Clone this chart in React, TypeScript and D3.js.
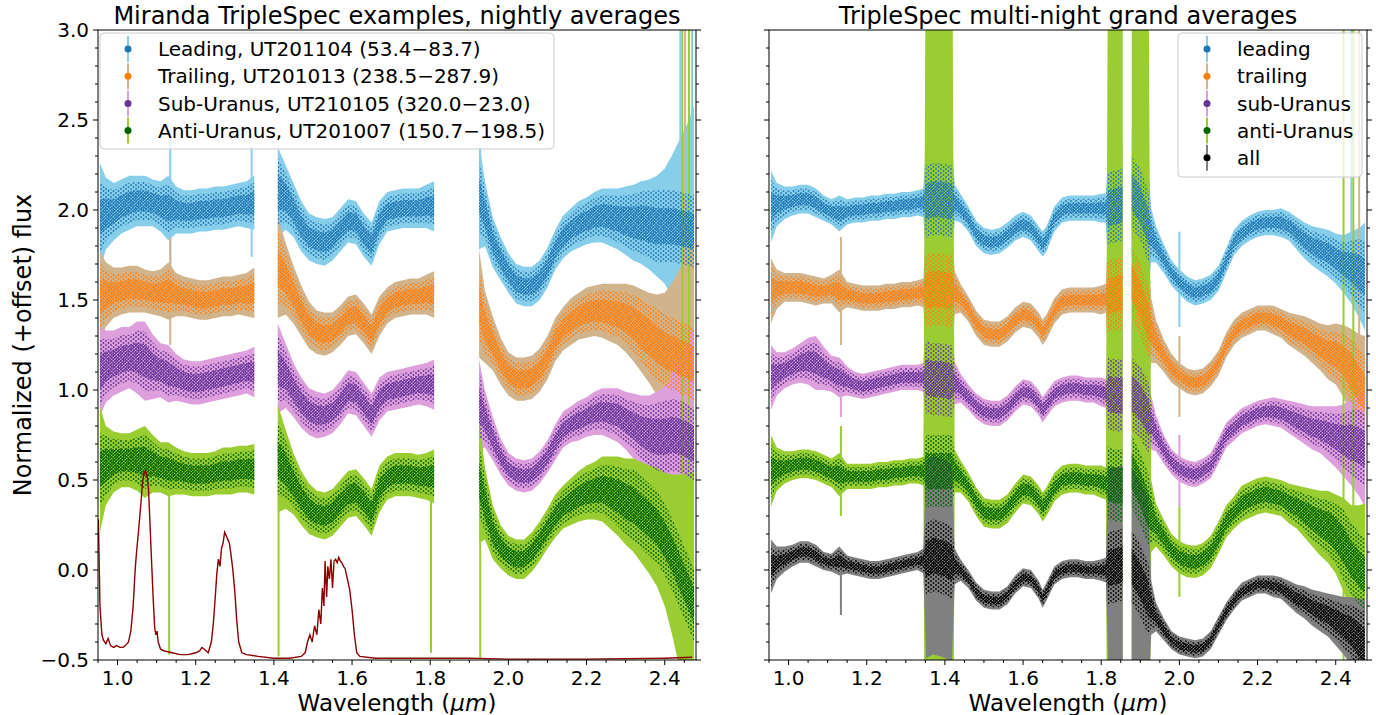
import * as d3 from "d3";

const FONT = "DejaVu Sans, Verdana, sans-serif";
const TOP = 30;
const BOTTOM = 660;

// series colours: marker colour and error-bar colour
const COLORS: Record<string, { dot: string; bar: string }> = {
  lead: { dot: "#1f77b4", bar: "#87ceeb" },
  trail: { dot: "#ff7f0e", bar: "#d2b48c" },
  sub: { dot: "#663399", bar: "#dda0dd" },
  anti: { dot: "#006400", bar: "#9acd32" },
  all: { dot: "#000000", bar: "#808080" },
};

const X_TICKS = [1.0, 1.2, 1.4, 1.6, 1.8, 2.0, 2.2, 2.4];
const Y_TICKS = [-0.5, 0.0, 0.5, 1.0, 1.5, 2.0, 2.5, 3.0];

// ---------- left panel: nightly averages ----------
const WL_L = [
  0.955, 0.97, 0.99, 1.01, 1.03, 1.05, 1.07, 1.09, 1.11, 1.13, 1.15, 1.17, 1.19, 1.21, 1.23, 1.25, 1.27, 1.29, 1.31, 1.33, 1.35,
  1.41, 1.43, 1.45, 1.47, 1.49, 1.51, 1.53, 1.55, 1.57, 1.59, 1.61, 1.63, 1.65, 1.67, 1.69, 1.71, 1.73, 1.75, 1.77, 1.79, 1.81,
  1.925, 1.94, 1.96, 1.98, 2.0, 2.02, 2.04, 2.06, 2.08, 2.1, 2.12, 2.14, 2.16, 2.18, 2.2, 2.22, 2.24, 2.26, 2.28, 2.3, 2.32, 2.34, 2.36, 2.38, 2.4, 2.42, 2.44, 2.46, 2.475,
];
const GAPS_L = [[1.35, 1.41], [1.81, 1.925]];

const LEAD_L = [
  1.96, 1.98, 1.99, 2.02, 2.04, 2.05, 2.05, 2.04, 2.02, 2.01, 2.0, 1.99, 1.99, 2.0, 2.0, 2.01, 2.01, 2.02, 2.03, 2.03, 2.04,
  2.1, 2.07, 2.0, 1.91, 1.85, 1.83, 1.82, 1.84, 1.89, 1.94, 1.93, 1.86, 1.81, 1.93, 1.99, 2.0, 2.01, 2.01, 2.01, 2.02, 2.02,
  2.08, 1.98, 1.82, 1.73, 1.65, 1.59, 1.575, 1.575, 1.61, 1.68, 1.78, 1.85, 1.89, 1.92, 1.94, 1.96, 1.97, 1.96, 1.95, 1.94, 1.93, 1.93, 1.92, 1.91, 1.91, 1.91, 1.9, 1.89, 1.88,
];
const LEAD_L_ERR = [
  0.3, 0.2, 0.16, 0.15, 0.15, 0.14, 0.14, 0.13, 0.14, 0.18, 0.13, 0.12, 0.12, 0.12, 0.12, 0.12, 0.12, 0.12, 0.12, 0.13, 0.15,
  0.25, 0.18, 0.15, 0.14, 0.13, 0.13, 0.13, 0.12, 0.12, 0.12, 0.12, 0.12, 0.12, 0.12, 0.11, 0.11, 0.11, 0.11, 0.11, 0.12, 0.14,
  0.3, 0.18, 0.14, 0.12, 0.11, 0.11, 0.11, 0.11, 0.11, 0.11, 0.11, 0.12, 0.12, 0.13, 0.13, 0.14, 0.15, 0.16, 0.17, 0.19, 0.21, 0.23, 0.25, 0.28, 0.32, 0.4, 0.5, 0.6, 0.7,
];
const TRAIL_L = [
  1.52, 1.53, 1.54, 1.55, 1.56, 1.56, 1.55, 1.54, 1.54, 1.55, 1.53, 1.52, 1.51, 1.5, 1.5, 1.51, 1.52, 1.52, 1.53, 1.53, 1.54,
  1.68, 1.62, 1.53, 1.44, 1.36, 1.32, 1.31, 1.32, 1.36, 1.41, 1.42, 1.37, 1.31, 1.41, 1.47, 1.5, 1.51, 1.52, 1.52, 1.53, 1.53,
  1.48, 1.35, 1.26, 1.16, 1.09, 1.06, 1.06, 1.07, 1.11, 1.18, 1.28, 1.34, 1.38, 1.41, 1.43, 1.44, 1.44, 1.43, 1.42, 1.4, 1.37, 1.33, 1.29, 1.25, 1.22, 1.2, 1.18, 1.16, 1.14,
];
const TRAIL_L_ERR = [
  0.25, 0.18, 0.14, 0.13, 0.13, 0.13, 0.12, 0.12, 0.13, 0.16, 0.12, 0.11, 0.11, 0.11, 0.11, 0.11, 0.11, 0.11, 0.11, 0.12, 0.14,
  0.28, 0.2, 0.16, 0.14, 0.13, 0.12, 0.12, 0.11, 0.11, 0.11, 0.11, 0.11, 0.11, 0.11, 0.1, 0.1, 0.1, 0.1, 0.1, 0.11, 0.13,
  0.3, 0.2, 0.15, 0.13, 0.12, 0.12, 0.12, 0.12, 0.12, 0.12, 0.12, 0.12, 0.13, 0.13, 0.14, 0.14, 0.15, 0.16, 0.17, 0.19, 0.21, 0.23, 0.25, 0.28, 0.32, 0.4, 0.5, 0.6, 0.7,
];
const SUB_L = [
  1.1, 1.13, 1.15, 1.17, 1.18, 1.18, 1.16, 1.13, 1.11, 1.09, 1.07, 1.05, 1.04, 1.04, 1.05, 1.06, 1.07, 1.08, 1.09, 1.1, 1.1,
  1.12, 1.08, 1.0, 0.93, 0.88, 0.86, 0.86, 0.88, 0.93, 0.99, 0.98, 0.92, 0.86, 0.95, 0.99, 1.0, 1.01, 1.02, 1.03, 1.03, 1.03,
  0.92, 0.84, 0.73, 0.63, 0.56, 0.53, 0.52, 0.53, 0.57, 0.63, 0.71, 0.78, 0.81, 0.83, 0.85, 0.87, 0.88, 0.87, 0.86, 0.83, 0.8, 0.77, 0.75, 0.74, 0.74, 0.75, 0.74, 0.72, 0.7,
];
const SUB_L_ERR = [
  0.25, 0.2, 0.18, 0.18, 0.17, 0.2, 0.22, 0.18, 0.15, 0.16, 0.13, 0.12, 0.12, 0.12, 0.12, 0.12, 0.12, 0.12, 0.12, 0.12, 0.14,
  0.25, 0.18, 0.15, 0.14, 0.13, 0.13, 0.12, 0.12, 0.12, 0.12, 0.12, 0.12, 0.12, 0.12, 0.11, 0.11, 0.11, 0.11, 0.11, 0.12, 0.14,
  0.25, 0.16, 0.12, 0.1, 0.09, 0.09, 0.09, 0.09, 0.09, 0.09, 0.1, 0.1, 0.1, 0.11, 0.11, 0.12, 0.13, 0.14, 0.15, 0.16, 0.18, 0.2, 0.22, 0.25, 0.28, 0.35, 0.45, 0.55, 0.65,
];
const ANTI_L = [
  0.56, 0.58, 0.6, 0.61, 0.61, 0.61, 0.6, 0.59, 0.57, 0.56, 0.55, 0.54, 0.53, 0.53, 0.53, 0.54, 0.55, 0.55, 0.56, 0.56, 0.56,
  0.62, 0.56, 0.48, 0.4, 0.34, 0.31, 0.3, 0.32, 0.37, 0.42, 0.43, 0.38, 0.32, 0.45, 0.51, 0.53, 0.53, 0.53, 0.52, 0.52, 0.52,
  0.5, 0.37, 0.21, 0.13, 0.08, 0.06, 0.06, 0.1, 0.16, 0.23, 0.3, 0.35, 0.38, 0.41, 0.43, 0.44, 0.45, 0.43, 0.41, 0.38, 0.36, 0.32, 0.28, 0.24, 0.17, 0.08, -0.02, -0.12, -0.2,
];
const ANTI_L_ERR = [
  0.35, 0.22, 0.17, 0.15, 0.15, 0.17, 0.2, 0.16, 0.14, 0.15, 0.13, 0.12, 0.12, 0.12, 0.12, 0.12, 0.13, 0.13, 0.13, 0.13, 0.14,
  0.3, 0.22, 0.17, 0.15, 0.14, 0.13, 0.13, 0.13, 0.13, 0.13, 0.13, 0.13, 0.13, 0.13, 0.12, 0.12, 0.12, 0.12, 0.12, 0.13, 0.15,
  0.35, 0.2, 0.15, 0.12, 0.11, 0.11, 0.11, 0.11, 0.11, 0.11, 0.12, 0.12, 0.13, 0.14, 0.15, 0.16, 0.18, 0.2, 0.22, 0.24, 0.26, 0.28, 0.3, 0.33, 0.37, 0.45, 0.55, 0.65, 0.75,
];

// single outlying error bars: [series, wavelength, low, high]
const SPIKES_L: [string, number, number, number][] = [
  ["lead", 1.135, 1.7, 2.45],
  ["trail", 1.135, 1.25, 1.85],
  ["lead", 1.343, 1.74, 2.35],
  ["lead", 1.928, 1.8, 2.35],
  ["anti", 1.132, -0.47, 0.45],
  ["anti", 1.412, -0.48, 0.75],
  ["anti", 1.802, -0.46, 0.6],
  ["anti", 1.928, -0.49, 0.7],
  ["lead", 2.44, -0.5, 3.0],
  ["trail", 2.452, -0.5, 3.0],
  ["anti", 2.445, -0.5, 3.0],
  ["anti", 2.462, -0.5, 3.0],
  ["lead", 2.47, 0.5, 3.0],
];

// scaled telluric transmission (dark red line)
const TELL_WL = [
  0.951, 0.955, 0.96, 0.964, 0.97, 0.976, 0.982, 0.99, 0.998, 1.006, 1.014, 1.02, 1.028, 1.034, 1.04, 1.045, 1.049, 1.053,
  1.057, 1.061, 1.064, 1.068, 1.071, 1.075, 1.079, 1.083, 1.087, 1.091, 1.095, 1.098, 1.101, 1.104, 1.11, 1.12, 1.14, 1.16,
  1.18, 1.2, 1.21, 1.216, 1.222, 1.232, 1.24, 1.245, 1.25, 1.254, 1.258, 1.262, 1.266, 1.27, 1.274, 1.278, 1.282, 1.286,
  1.29, 1.295, 1.3, 1.305, 1.31, 1.318, 1.33, 1.36, 1.4, 1.44, 1.47, 1.48, 1.486, 1.492, 1.498, 1.504, 1.51, 1.515, 1.52,
  1.524, 1.528, 1.531, 1.535, 1.538, 1.542, 1.546, 1.55, 1.554, 1.558, 1.562, 1.566, 1.57, 1.574, 1.578, 1.582, 1.588,
  1.594, 1.6, 1.606, 1.612, 1.62, 1.66, 1.72, 1.8, 1.85, 1.9, 2.0, 2.2, 2.4, 2.47,
];
const TELL_V = [
  0.28, -0.2, -0.36, -0.39, -0.41, -0.38, -0.42, -0.43, -0.42, -0.43, -0.43, -0.42, -0.4, -0.34, -0.2, 0.0, 0.11, 0.2,
  0.3, 0.4, 0.49, 0.54, 0.55, 0.53, 0.46, 0.26, 0.05, -0.15, -0.32, -0.36, -0.34, -0.4, -0.44, -0.45, -0.46, -0.47,
  -0.47, -0.46, -0.45, -0.43, -0.44, -0.46, -0.4, -0.3, -0.15, -0.02, 0.06, 0.02, 0.12, 0.15, 0.21, 0.19, 0.17, 0.15,
  0.09, 0.0, -0.12, -0.28, -0.4, -0.46, -0.47, -0.48, -0.49, -0.49, -0.48, -0.46, -0.4, -0.36, -0.4, -0.31, -0.36, -0.22, -0.3,
  -0.1, -0.2, 0.05, -0.15, 0.02, -0.05, 0.06, -0.1, 0.05, 0.06, 0.04, 0.07, 0.05, 0.04, 0.02, 0.01, -0.05,
  -0.11, -0.22, -0.36, -0.46, -0.48, -0.49, -0.49, -0.49, -0.49, -0.49, -0.495, -0.495, -0.49, -0.485,
];

// ---------- right panel: multi-night grand averages ----------
const WL_R = [
  0.955, 0.97, 0.99, 1.01, 1.03, 1.05, 1.07, 1.09, 1.11, 1.13,
  1.15, 1.17, 1.19, 1.21, 1.23, 1.25, 1.27, 1.29, 1.31, 1.33,
  1.345, 1.352, 1.37, 1.39, 1.41, 1.418,
  1.425, 1.44, 1.46, 1.48, 1.5, 1.52, 1.54, 1.56, 1.58, 1.6, 1.62, 1.64, 1.65, 1.66, 1.68, 1.7, 1.72, 1.74, 1.76, 1.78, 1.8,
  1.812, 1.818, 1.835, 1.855,
  1.878, 1.9, 1.92, 1.928, 1.94,
  1.96, 1.98, 2.0, 2.02, 2.04, 2.06, 2.08, 2.1, 2.12, 2.14, 2.16, 2.18, 2.2, 2.22, 2.24, 2.26, 2.28, 2.3, 2.32, 2.34, 2.36, 2.38, 2.4, 2.42, 2.44, 2.46, 2.475,
];
const GAPS_R = [[1.855, 1.878]];

const LEAD_R = [
  2.02, 2.03, 2.04, 2.05, 2.06, 2.06, 2.04, 2.01, 1.99, 1.98,
  1.99, 2.0, 2.0, 2.01, 2.01, 2.02, 2.02, 2.03, 2.03, 2.04,
  2.04, 2.05, 2.06, 2.06, 2.05, 2.05,
  2.04, 2.01, 1.95, 1.87, 1.83, 1.82, 1.83, 1.86, 1.9, 1.92, 1.9, 1.84, 1.81, 1.84, 1.95, 2.0, 2.01, 2.01, 2.01, 2.01, 2.01,
  2.01, 2.01, 2.02, 2.03,
  2.1, 2.03, 1.91, 1.86, 1.81,
  1.73, 1.65, 1.6, 1.56, 1.54, 1.55, 1.57, 1.62, 1.72, 1.82, 1.87, 1.9, 1.92, 1.93, 1.93, 1.93, 1.91, 1.87, 1.83, 1.8, 1.78, 1.76, 1.73, 1.7, 1.68, 1.65, 1.63,
];
const LEAD_R_ERR = [
  0.2, 0.12, 0.09, 0.08, 0.08, 0.08, 0.08, 0.07, 0.07, 0.1,
  0.07, 0.07, 0.07, 0.07, 0.07, 0.07, 0.07, 0.07, 0.07, 0.07,
  0.08, 0.35, 0.35, 0.35, 0.35, 0.35,
  0.1, 0.08, 0.07, 0.07, 0.07, 0.07, 0.07, 0.07, 0.07, 0.07, 0.07, 0.07, 0.07, 0.07, 0.07, 0.07, 0.07, 0.07, 0.07, 0.07, 0.08,
  0.08, 0.35, 0.35, 0.35,
  0.35, 0.35, 0.35, 0.15, 0.1,
  0.08, 0.07, 0.07, 0.07, 0.07, 0.07, 0.07, 0.07, 0.07, 0.07, 0.07, 0.07, 0.07, 0.07, 0.07, 0.08, 0.08, 0.09, 0.1, 0.11, 0.12, 0.13, 0.14, 0.16, 0.2, 0.25, 0.3,
];
const TRAIL_R = [
  1.55, 1.56, 1.57, 1.57, 1.57, 1.56, 1.55, 1.55, 1.56, 1.55,
  1.53, 1.52, 1.51, 1.51, 1.51, 1.52, 1.52, 1.53, 1.53, 1.54,
  1.54, 1.55, 1.56, 1.56, 1.55, 1.55,
  1.54, 1.51, 1.45, 1.37, 1.32, 1.31, 1.31, 1.34, 1.39, 1.42, 1.41, 1.36, 1.32, 1.35, 1.44, 1.49, 1.5, 1.5, 1.5, 1.5, 1.5,
  1.51, 1.52, 1.53, 1.54,
  1.6, 1.5, 1.38, 1.33, 1.27,
  1.19, 1.12, 1.08, 1.05, 1.04, 1.05, 1.09, 1.15, 1.25, 1.32, 1.36, 1.38, 1.4, 1.4, 1.39, 1.37, 1.34, 1.32, 1.3, 1.27, 1.24, 1.21, 1.2, 1.16, 1.1, 1.03, 0.98,
];
const TRAIL_R_ERR = [
  0.18, 0.11, 0.08, 0.08, 0.08, 0.08, 0.08, 0.07, 0.08, 0.12,
  0.07, 0.07, 0.07, 0.07, 0.07, 0.07, 0.07, 0.07, 0.07, 0.07,
  0.08, 0.4, 0.4, 0.4, 0.4, 0.4,
  0.12, 0.08, 0.07, 0.07, 0.07, 0.07, 0.07, 0.07, 0.07, 0.07, 0.07, 0.07, 0.07, 0.07, 0.07, 0.07, 0.07, 0.07, 0.07, 0.07, 0.08,
  0.08, 0.4, 0.4, 0.4,
  0.4, 0.4, 0.4, 0.18, 0.12,
  0.09, 0.08, 0.07, 0.07, 0.07, 0.07, 0.07, 0.07, 0.07, 0.07, 0.07, 0.07, 0.07, 0.07, 0.08, 0.08, 0.09, 0.1, 0.11, 0.12, 0.13, 0.15, 0.17, 0.2, 0.24, 0.28, 0.32,
];
const SUB_R = [
  1.07, 1.09, 1.11, 1.13, 1.15, 1.16, 1.15, 1.12, 1.09, 1.07,
  1.05, 1.03, 1.02, 1.03, 1.04, 1.05, 1.06, 1.07, 1.07, 1.07,
  1.07, 1.07, 1.06, 1.06, 1.05, 1.05,
  1.04, 1.01, 0.96, 0.91, 0.88, 0.87, 0.87, 0.9, 0.95, 0.99, 0.98, 0.93, 0.89, 0.92, 0.98, 1.0, 1.01, 1.01, 1.0, 1.0, 0.99,
  0.98, 0.98, 0.97, 0.97,
  0.98, 0.93, 0.85, 0.82, 0.76,
  0.67, 0.6, 0.56, 0.54, 0.53, 0.55, 0.58, 0.66, 0.75, 0.79, 0.83, 0.85, 0.87, 0.88, 0.88, 0.87, 0.85, 0.83, 0.81, 0.79, 0.78, 0.76, 0.74, 0.72, 0.71, 0.69, 0.67,
];
const SUB_R_ERR = [
  0.18, 0.12, 0.1, 0.1, 0.11, 0.13, 0.15, 0.12, 0.1, 0.11,
  0.08, 0.07, 0.07, 0.07, 0.07, 0.07, 0.07, 0.07, 0.07, 0.07,
  0.08, 0.4, 0.4, 0.4, 0.4, 0.4,
  0.12, 0.08, 0.07, 0.07, 0.07, 0.07, 0.07, 0.07, 0.07, 0.07, 0.07, 0.07, 0.07, 0.07, 0.07, 0.07, 0.07, 0.07, 0.07, 0.07, 0.08,
  0.08, 0.4, 0.4, 0.4,
  0.4, 0.4, 0.4, 0.15, 0.1,
  0.08, 0.07, 0.07, 0.07, 0.07, 0.07, 0.07, 0.07, 0.07, 0.07, 0.07, 0.07, 0.07, 0.07, 0.08, 0.08, 0.09, 0.1, 0.11, 0.12, 0.13, 0.15, 0.17, 0.2, 0.24, 0.28, 0.32,
];
const ANTI_R = [
  0.55, 0.56, 0.57, 0.58, 0.59, 0.59, 0.58, 0.56, 0.54, 0.53,
  0.52, 0.52, 0.52, 0.52, 0.53, 0.53, 0.54, 0.54, 0.55, 0.55,
  0.55, 0.55, 0.55, 0.55, 0.55, 0.55,
  0.55, 0.52, 0.46, 0.38, 0.32, 0.31, 0.31, 0.34, 0.4, 0.45, 0.44, 0.39, 0.35, 0.38, 0.46, 0.5, 0.51, 0.51, 0.5, 0.5, 0.49,
  0.48, 0.48, 0.47, 0.47,
  0.55, 0.45, 0.34, 0.3, 0.25,
  0.18, 0.11, 0.07, 0.05, 0.045, 0.06, 0.1, 0.18, 0.27, 0.32, 0.37, 0.39, 0.41, 0.42, 0.41, 0.4, 0.37, 0.35, 0.32, 0.29, 0.26, 0.24, 0.2, 0.14, 0.06, 0.01, -0.03,
];
const ANTI_R_ERR = [
  0.2, 0.12, 0.09, 0.08, 0.08, 0.08, 0.08, 0.08, 0.08, 0.12,
  0.07, 0.07, 0.07, 0.07, 0.07, 0.07, 0.07, 0.07, 0.07, 0.07,
  0.08, 3.5, 3.5, 3.5, 3.5, 3.5,
  0.12, 0.09, 0.08, 0.08, 0.08, 0.08, 0.08, 0.08, 0.08, 0.08, 0.08, 0.08, 0.08, 0.08, 0.08, 0.08, 0.08, 0.08, 0.08, 0.08, 0.09,
  0.09, 3.5, 3.5, 3.5,
  3.5, 3.5, 3.5, 0.2, 0.12,
  0.1, 0.09, 0.09, 0.09, 0.09, 0.09, 0.09, 0.09, 0.09, 0.09, 0.1, 0.1, 0.1, 0.1, 0.1, 0.1, 0.11, 0.12, 0.14, 0.16, 0.18, 0.2, 0.22, 0.26, 0.3, 0.35, 0.4,
];
const ALL_R = [
  0.02, 0.04, 0.06, 0.08, 0.1, 0.1, 0.08, 0.05, 0.04, 0.05,
  0.03, 0.02, 0.01, 0.0, 0.0, 0.01, 0.02, 0.03, 0.04, 0.05,
  0.05, 0.06, 0.08, 0.07, 0.05, 0.04,
  0.02, 0.0, -0.05, -0.12, -0.16, -0.17, -0.17, -0.14, -0.08, -0.04, -0.05, -0.11, -0.16, -0.12, -0.03, 0.0, 0.01, 0.01, 0.0, 0.0, 0.0,
  0.0, 0.01, 0.02, 0.03,
  0.02, -0.06, -0.16, -0.21, -0.26,
  -0.33, -0.39, -0.42, -0.43, -0.44, -0.43, -0.39, -0.31, -0.23, -0.17, -0.12, -0.1, -0.08, -0.08, -0.09, -0.1, -0.13, -0.16, -0.18, -0.21, -0.23, -0.25, -0.28, -0.31, -0.34, -0.39, -0.43,
];
const ALL_R_ERR = [
  0.15, 0.09, 0.07, 0.06, 0.06, 0.06, 0.06, 0.05, 0.05, 0.08,
  0.05, 0.05, 0.05, 0.05, 0.05, 0.05, 0.05, 0.05, 0.05, 0.05,
  0.07, 0.55, 0.55, 0.55, 0.55, 0.55,
  0.1, 0.06, 0.05, 0.05, 0.05, 0.05, 0.05, 0.05, 0.05, 0.05, 0.05, 0.05, 0.05, 0.05, 0.05, 0.05, 0.05, 0.05, 0.05, 0.05, 0.06,
  0.07, 0.55, 0.55, 0.55,
  0.55, 0.55, 0.55, 0.15, 0.08,
  0.06, 0.05, 0.05, 0.05, 0.05, 0.05, 0.05, 0.05, 0.05, 0.05, 0.05, 0.05, 0.05, 0.05, 0.06, 0.06, 0.07, 0.08, 0.09, 0.1, 0.11, 0.12, 0.14, 0.16, 0.19, 0.23, 0.27,
];

const SPIKES_R: [string, number, number, number][] = [
  ["trail", 1.134, 1.25, 1.85],
  ["sub", 1.134, 0.85, 1.15],
  ["anti", 1.134, 0.3, 0.8],
  ["all", 1.134, -0.25, 0.1],
  ["lead", 2.0, 1.35, 1.88],
  ["trail", 2.0, 0.85, 1.3],
  ["sub", 2.0, 0.35, 0.75],
  ["anti", 2.0, -0.15, 0.35],
  ["lead", 2.44, 1.6, 3.0],
  ["trail", 2.46, 1.0, 3.0],
  ["anti", 2.42, -0.5, 3.0],
  ["anti", 2.445, -0.5, 3.0],
];

const LEGEND_L = [
  "Leading, UT201104 (53.4\u221283.7)",
  "Trailing, UT201013 (238.5\u2212287.9)",
  "Sub-Uranus, UT210105 (320.0\u221223.0)",
  "Anti-Uranus, UT201007 (150.7\u2212198.5)",
];
const LEGEND_R = ["leading", "trailing", "sub-Uranus", "anti-Uranus", "all"];

type Pt = { w: number; v: number; e: number };
type SeriesDef = { key: string; v: number[]; e: number[] };

function splitSegments(wl: number[], v: number[], e: number[], gaps: number[][]): Pt[][] {
  const segs: Pt[][] = [[]];
  wl.forEach((w, i) => {
    if (i > 0 && gaps.some(([a, b]) => wl[i - 1] <= a && w >= b)) segs.push([]);
    segs[segs.length - 1].push({ w, v: v[i], e: e[i] });
  });
  return segs;
}

const fmt = (d: number) => d3.format(".1f")(d).replace("-", "\u2212");

function Panel({
  id, left, right, title, wl, gaps, series, spikes, legend, legendBox, telluric, yLabels,
}: any) {
  const x = d3.scaleLinear().domain([0.95, 2.48]).range([left, right]);
  const y = d3.scaleLinear().domain([-0.5, 3.0]).range([BOTTOM, TOP]);

  const band = d3.area<Pt>().x((d) => x(d.w)).y0((d) => y(d.v - d.e)).y1((d) => y(d.v + d.e));
  // the scattered points: a wide sparse cloud and a dense core
  const cloud = (f: number, cap: number) =>
    d3
      .area<Pt>()
      .x((d) => x(d.w))
      .y0((d) => y(d.v - Math.min(d.e * f, cap)))
      .y1((d) => y(d.v + Math.min(d.e * f, cap)));
  const outer = cloud(0.75, 0.2);
  const inner = cloud(0.42, 0.1);

  const segsBy = series.map((s: SeriesDef) => splitSegments(wl, s.v, s.e, gaps));
  const minorX = d3.range(19, 50).map((i) => i * 0.05).filter((t) => !X_TICKS.some((m) => Math.abs(m - t) < 1e-6));
  const minorY = d3.range(-5, 31).map((i) => i / 10).filter((t) => !Y_TICKS.some((m) => Math.abs(m - t) < 1e-6));
  const tellLine = d3.line<number>().x((_, i) => x(TELL_WL[i])).y((d) => y(d));

  return (
    <g>
      <defs>
        <clipPath id={`clip-${id}`}>
          <rect x={left} y={TOP} width={right - left} height={BOTTOM - TOP} />
        </clipPath>
      </defs>
      <g clipPath={`url(#clip-${id})`}>
        {series.map((s: SeriesDef, k: number) => (
          <g key={s.key}>
            {segsBy[k].map((seg: Pt[], j: number) => (
              <path key={j} d={band(seg) || ""} fill={COLORS[s.key].bar} />
            ))}
            {spikes
              .filter((sp: any) => sp[0] === s.key)
              .map((sp: any, j: number) => (
                <line key={j} x1={x(sp[1])} x2={x(sp[1])} y1={y(sp[2])} y2={y(sp[3])} stroke={COLORS[s.key].bar} strokeWidth={2} />
              ))}
          </g>
        ))}
        {series.map((s: SeriesDef, k: number) => (
          <g key={s.key + "-dots"}>
            {segsBy[k].map((seg: Pt[], j: number) => (
              <g key={j}>
                <path d={outer(seg) || ""} fill={`url(#sparse-${s.key})`} />
                <path d={inner(seg) || ""} fill={`url(#dense-${s.key})`} />
              </g>
            ))}
          </g>
        ))}
        {telluric && <path d={tellLine(TELL_V) || ""} fill="none" stroke="#8b0000" strokeWidth={1.4} />}
      </g>

      {/* spines */}
      <rect x={left} y={TOP} width={right - left} height={BOTTOM - TOP} fill="none" stroke="#000" strokeWidth={1} />

      {/* x ticks */}
      {X_TICKS.map((t) => (
        <g key={t}>
          <line x1={x(t)} x2={x(t)} y1={BOTTOM} y2={BOTTOM + 5} stroke="#000" />
          <text x={x(t)} y={684.5} fontSize={20} textAnchor="middle">{t.toFixed(1)}</text>
        </g>
      ))}
      {minorX.map((t) => (
        <line key={t} x1={x(t)} x2={x(t)} y1={BOTTOM} y2={BOTTOM + 3} stroke="#000" />
      ))}

      {/* y ticks, both sides */}
      {Y_TICKS.map((t) => (
        <g key={t}>
          <line x1={left - 5} x2={left} y1={y(t)} y2={y(t)} stroke="#000" />
          <line x1={right} x2={right + 5} y1={y(t)} y2={y(t)} stroke="#000" />
          {yLabels && (
            <text x={left - 9} y={y(t)} dy="0.36em" fontSize={20} textAnchor="end">{fmt(t)}</text>
          )}
        </g>
      ))}
      {minorY.map((t) => (
        <g key={t}>
          <line x1={left - 3} x2={left} y1={y(t)} y2={y(t)} stroke="#000" />
          <line x1={right} x2={right + 3} y1={y(t)} y2={y(t)} stroke="#000" />
        </g>
      ))}

      <text x={(left + right) / 2} y={24} fontSize={24} textAnchor="middle">{title}</text>
      <text x={(left + right) / 2} y={711} fontSize={23} textAnchor="middle">
        Wavelength (<tspan fontStyle="italic">{"\u03bcm"}</tspan>)
      </text>
      {yLabels && (
        <text transform={`translate(31,${(TOP + BOTTOM) / 2}) rotate(-90)`} fontSize={24} textAnchor="middle">
          Normalized (+offset) flux
        </text>
      )}

      {/* legend */}
      <rect x={legendBox.x} y={legendBox.y} width={legendBox.w} height={legendBox.h} rx={4}
        fill="#fff" fillOpacity={0.8} stroke="#cccccc" strokeWidth={1} />
      {legend.map((label: string, i: number) => {
        const cy = legendBox.y + 16 + i * 27.2;
        const key = series[i].key;
        return (
          <g key={label}>
            <line x1={legendBox.mx} x2={legendBox.mx} y1={cy - 13} y2={cy + 13} stroke={COLORS[key].bar} strokeWidth={2} />
            <circle cx={legendBox.mx} cy={cy} r={3.5} fill={COLORS[key].dot} />
            <text x={legendBox.tx} y={cy} dy="0.36em" fontSize={20}>{label}</text>
          </g>
        );
      })}
    </g>
  );
}

export default function App() {
  const leftSeries: SeriesDef[] = [
    { key: "lead", v: LEAD_L, e: LEAD_L_ERR },
    { key: "trail", v: TRAIL_L, e: TRAIL_L_ERR },
    { key: "sub", v: SUB_L, e: SUB_L_ERR },
    { key: "anti", v: ANTI_L, e: ANTI_L_ERR },
  ];
  const rightSeries: SeriesDef[] = [
    { key: "lead", v: LEAD_R, e: LEAD_R_ERR },
    { key: "trail", v: TRAIL_R, e: TRAIL_R_ERR },
    { key: "sub", v: SUB_R, e: SUB_R_ERR },
    { key: "anti", v: ANTI_R, e: ANTI_R_ERR },
    { key: "all", v: ALL_R, e: ALL_R_ERR },
  ];
  return (
    <svg width={1376} height={715} fontFamily={FONT}
      style={{ position: "absolute", left: 0, top: 0, background: "#fff" }}>
      <defs>
        {Object.entries(COLORS).map(([k, c]) => (
          <g key={k}>
            <pattern id={`sparse-${k}`} width={5} height={4} patternUnits="userSpaceOnUse">
              <circle cx={1} cy={1} r={0.9} fill={c.dot} />
              <circle cx={3.5} cy={3} r={0.9} fill={c.dot} />
            </pattern>
            <pattern id={`dense-${k}`} width={3} height={3} patternUnits="userSpaceOnUse">
              <circle cx={0.75} cy={0.75} r={0.95} fill={c.dot} />
              <circle cx={2.25} cy={2.25} r={0.95} fill={c.dot} />
            </pattern>
          </g>
        ))}
      </defs>
      <Panel id="l" left={98} right={696} title="Miranda TripleSpec examples, nightly averages"
        wl={WL_L} gaps={GAPS_L} series={leftSeries} spikes={SPIKES_L} legend={LEGEND_L}
        legendBox={{ x: 100, y: 33, w: 454, h: 116, mx: 128, tx: 158 }} telluric yLabels />
      <Panel id="r" left={769} right={1367} title="TripleSpec multi-night grand averages"
        wl={WL_R} gaps={GAPS_R} series={rightSeries} spikes={SPIKES_R} legend={LEGEND_R}
        legendBox={{ x: 1178, y: 33, w: 184, h: 144, mx: 1207, tx: 1237 }} telluric={false} yLabels={false} />
    </svg>
  );
}
